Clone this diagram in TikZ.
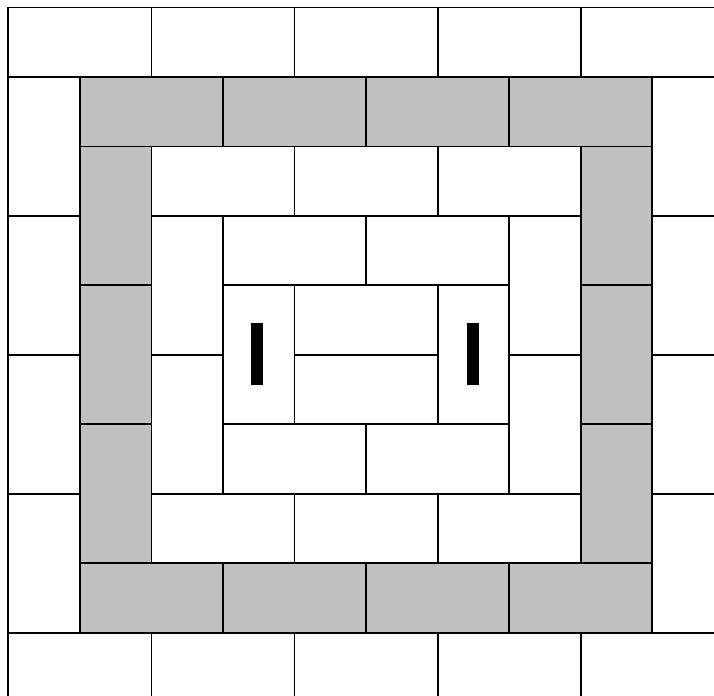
\documentclass[tikz,border=0pt]{standalone}
\definecolor{brickgray}{HTML}{C0C0C0}
\tikzset{
  brick/.style={draw=black, line width=1.8pt},
  graybrick/.style={fill=brickgray},
  barmark/.style={fill=black, draw=none}
}
\begin{document}
\begin{tikzpicture}[x=71.55pt, y=-69.46pt]
\useasboundingbox (-0.116,-0.108) rectangle (9.863,9.912);
\fill[white] (-0.116,-0.108) rectangle (9.863,9.912);
\clip (-0.116,-0.108) rectangle (9.863,9.912);
% gray ring fills
\foreach \a in {1,3,5,7} {
  \fill[graybrick] (\a,1) rectangle ++(2,1);
  \fill[graybrick] (\a,8) rectangle ++(2,1);
}
\foreach \b in {2,4,6} {
  \fill[graybrick] (1,\b) rectangle ++(1,2);
  \fill[graybrick] (8,\b) rectangle ++(1,2);
}
% outer top and bottom rows
\foreach \a in {0,2,4,6,8} {
  \draw[brick] (\a,0) rectangle ++(2,1);
  \draw[brick] (\a,9) rectangle ++(2,1);
}
% outer left and right columns
\foreach \b in {1,3,5,7} {
  \draw[brick] (0,\b) rectangle ++(1,2);
  \draw[brick] (9,\b) rectangle ++(1,2);
}
% gray ring outlines
\foreach \a in {1,3,5,7} {
  \draw[brick] (\a,1) rectangle ++(2,1);
  \draw[brick] (\a,8) rectangle ++(2,1);
}
\foreach \b in {2,4,6} {
  \draw[brick] (1,\b) rectangle ++(1,2);
  \draw[brick] (8,\b) rectangle ++(1,2);
}
% inner white ring
\foreach \a in {2,4,6} {
  \draw[brick] (\a,2) rectangle ++(2,1);
  \draw[brick] (\a,7) rectangle ++(2,1);
}
\foreach \b in {3,5} {
  \draw[brick] (2,\b) rectangle ++(1,2);
  \draw[brick] (7,\b) rectangle ++(1,2);
}
% next ring
\foreach \a in {3,5} {
  \draw[brick] (\a,3) rectangle ++(2,1);
  \draw[brick] (\a,6) rectangle ++(2,1);
}
\draw[brick] (3,4) rectangle ++(1,2);
\draw[brick] (6,4) rectangle ++(1,2);
% centre
\draw[brick] (4,4) rectangle ++(2,1);
\draw[brick] (4,5) rectangle ++(2,1);
% black bars
\fill[barmark] (3.388,4.547) rectangle (3.556,5.435);
\fill[barmark] (6.407,4.547) rectangle (6.574,5.435);
\end{tikzpicture}
\end{document}
